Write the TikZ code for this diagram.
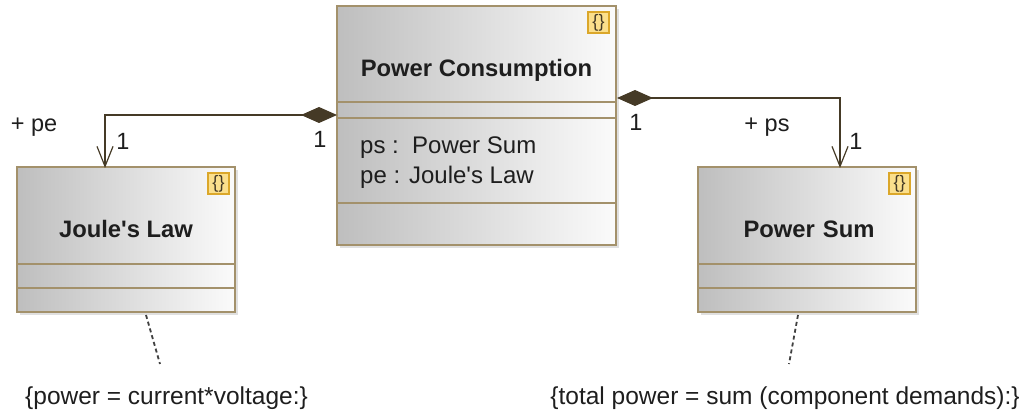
\documentclass[tikz,border=0pt]{standalone}
\usepackage{fontspec}
\newfontfamily\diagramfont{Liberation Sans}
\usetikzlibrary{arrows.meta,positioning,shadows}
\definecolor{BlockRule}{HTML}{A3916B}
\definecolor{BlockGrey}{HTML}{BEBEBE}
\definecolor{BlockPale}{HTML}{FBFBFB}
\definecolor{LinkBrown}{HTML}{453A26}
\definecolor{IconGold}{HTML}{DBA72A}
\definecolor{IconPale}{HTML}{FBDF8C}
\definecolor{NoteInk}{HTML}{1E1E1E}

\begin{document}
\begin{tikzpicture}[x=1pt,y=-1pt,
  part/.style={draw=BlockRule,line width=2pt,left color=BlockGrey,right color=BlockPale,outer sep=0pt,inner sep=0pt,align=center},
  bigblock/.style={part,minimum width=279pt},
  smallblock/.style={part,minimum width=218pt},
  title/.style={text=NoteInk,text height=#1,font=\diagramfont\fontsize{23.8}{28}\selectfont\bfseries},
  shade/.style={general shadow={fill=black!12,shadow xshift=3pt,shadow yshift=-3pt}},
  icon/.style={draw=IconGold,line width=2pt,fill=IconPale,minimum size=21pt,inner sep=0pt,outer sep=1pt,text=LinkBrown,font=\diagramfont\fontsize{18}{18}\selectfont},
  label/.style={inner sep=0pt,text=NoteInk,font=\diagramfont\fontsize{23.5}{30}\selectfont},
  note/.style={inner sep=0pt,text=NoteInk,font=\diagramfont\fontsize{24.5}{28}\selectfont},
  comp/.style={{Diamond[length=36pt,width=16pt,fill=LinkBrown]}-{Straight Barb[length=20pt,width=16pt,line width=1.2pt]},draw=LinkBrown,line width=2pt},
  tie/.style={draw=NoteInk!85,line width=1.8pt,dash pattern=on 4pt off 3pt}
]
\useasboundingbox (0,0) rectangle (1030,414);
% main block
\node[bigblock,shade,minimum height=96pt,anchor=north west,title=50pt] (pc) at (337,6) {Power Consumption};
\node[bigblock,shade,minimum height=16pt,below=0pt of pc] (pcA) {};
\node[bigblock,shade,minimum height=85pt,below=0pt of pcA] (pcB) {};
\node[bigblock,shade,minimum height=42pt,below=0pt of pcB] (pcC) {};
\node[label,align=left,anchor=west,xshift=23pt,yshift=-2pt,font=\diagramfont\fontsize{24}{30}\selectfont] (pcAttr) at (pcB.west) {ps :\ \ Power Sum\\pe : Joule's Law};
\node[icon,below left=5pt and 6pt of pc.north east] (pcIcon) {\{\}};
% left block
\node[smallblock,shade,minimum height=97pt,anchor=north west,title=44pt] (jl) at (17,167) {Joule's Law};
\node[smallblock,shade,minimum height=24pt,below=0pt of jl] (jlA) {};
\node[smallblock,shade,minimum height=24pt,below=0pt of jlA] (jlB) {};
\node[icon,below left=5pt and 5pt of jl.north east] (jlIcon) {\{\}};
% right block
\node[smallblock,shade,minimum height=97pt,anchor=north west,title=44pt,text width=218pt,xshift=0pt] (ps) at (698,167) {\hspace*{4pt}Power Sum};
\node[smallblock,shade,minimum height=24pt,below=0pt of ps] (psA) {};
\node[smallblock,shade,minimum height=24pt,below=0pt of psA] (psB) {};
\node[icon,below left=5pt and 5pt of ps.north east] (psIcon) {\{\}};
% ends of the links
\coordinate (pcLeft) at (337,115);
\coordinate (pcRight) at (617,98);
\coordinate (jlTop) at (105,168);
\coordinate (psTop) at (840,168);
\draw[comp] (pcLeft) -| (jlTop);
\draw[comp] (pcRight) -| (psTop);
% link labels
\node[label] (pe) at (34,127) {+ pe};
\node[label] (jlOne) at (123,141) {1};
\node[label] (pcOneL) at (320,139) {1};
\node[label] (pcOneR) at (636,122) {1};
\node[label] (psRole) at (767,127) {+ ps};
\node[label] (psOne) at (856,141) {1};
% constraints
\node[note] (jlNote) at (166.5,398) {\{power = current*voltage:\}};
\node[note] (psNote) at (785,398) {\{total power = sum (component demands):\}};
\coordinate (jlTieA) at (146,315);
\coordinate (jlTieB) at (160,364);
\coordinate (psTieA) at (798,315);
\coordinate (psTieB) at (789,364);
\draw[tie] (jlTieA) -- (jlTieB);
\draw[tie] (psTieA) -- (psTieB);
\end{tikzpicture}
\end{document}
